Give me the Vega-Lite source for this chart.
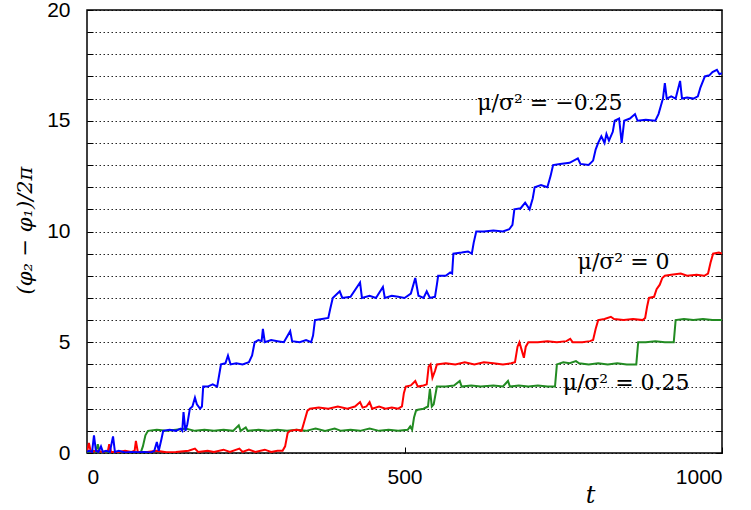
{
  "$schema": "https://vega.github.io/schema/vega-lite/v6.json",
  "width": 635,
  "height": 443,
  "autosize": {"type": "none"},
  "padding": {"left": 87, "top": 10, "right": 29, "bottom": 57},
  "background": "white",
  "config": {
    "view": {"stroke": "black", "strokeWidth": 1.5},
    "axis": {
      "labelFont": "Liberation Sans",
      "labelFontSize": 21,
      "labelColor": "black",
      "tickColor": "black",
      "domain": false,
      "titleFont": "DejaVu Serif",
      "titleFontWeight": "normal",
      "titleColor": "black"
    }
  },
  "datasets": {
    "blue": [
      {"t":0,"v":0.05},{"t":3,"v":0.1},{"t":8,"v":0.05},{"t":11,"v":0.8},{"t":14,"v":0.1},{"t":18,"v":0.05},{"t":22,"v":0.3},{"t":25,"v":0.05},{"t":30,"v":0.1},{"t":36,"v":0.05},{"t":41,"v":0.75},{"t":44,"v":0.05},{"t":50,"v":0.1},{"t":60,"v":0.02},{"t":70,"v":0.05},{"t":80,"v":0.03},{"t":90,"v":0.05},{"t":100,"v":0.02},{"t":106,"v":0.1},{"t":110,"v":0.5},{"t":113,"v":0.1},{"t":117,"v":0.6},{"t":120,"v":1.0},{"t":130,"v":1.05},{"t":140,"v":1.0},{"t":147,"v":1.1},{"t":150,"v":1.0},{"t":152,"v":1.85},{"t":155,"v":1.0},{"t":158,"v":1.3},{"t":162,"v":2.0},{"t":166,"v":2.1},{"t":170,"v":2.5},{"t":173,"v":2.2},{"t":178,"v":2.0},{"t":181,"v":2.1},{"t":183,"v":3.0},{"t":190,"v":3.0},{"t":198,"v":3.1},{"t":205,"v":3.0},{"t":208,"v":3.5},{"t":211,"v":4.0},{"t":218,"v":4.05},{"t":222,"v":4.4},{"t":226,"v":4.0},{"t":235,"v":4.05},{"t":245,"v":4.0},{"t":255,"v":4.1},{"t":260,"v":4.4},{"t":264,"v":5.0},{"t":270,"v":5.1},{"t":275,"v":5.05},{"t":277,"v":5.6},{"t":280,"v":5.0},{"t":290,"v":5.1},{"t":300,"v":5.05},{"t":310,"v":5.0},{"t":320,"v":5.5},{"t":323,"v":5.05},{"t":335,"v":5.0},{"t":345,"v":5.1},{"t":353,"v":5.0},{"t":356,"v":5.3},{"t":359,"v":6.0},{"t":370,"v":6.05},{"t":380,"v":6.1},{"t":383,"v":6.5},{"t":387,"v":7.0},{"t":398,"v":7.3},{"t":402,"v":7.0},{"t":415,"v":7.05},{"t":430,"v":7.7},{"t":433,"v":7.0},{"t":445,"v":7.1},{"t":455,"v":7.0},{"t":466,"v":7.5},{"t":469,"v":7.0},{"t":480,"v":7.1},{"t":490,"v":7.05},{"t":500,"v":7.0},{"t":510,"v":7.2},{"t":517,"v":7.9},{"t":522,"v":7.1},{"t":530,"v":7.0},{"t":535,"v":7.3},{"t":540,"v":7.0},{"t":548,"v":7.05},{"t":551,"v":7.6},{"t":553,"v":8.0},{"t":565,"v":8.0},{"t":572,"v":8.15},{"t":575,"v":8.1},{"t":577,"v":9.0},{"t":590,"v":9.05},{"t":600,"v":9.1},{"t":606,"v":9.0},{"t":609,"v":9.5},{"t":613,"v":10.0},{"t":625,"v":10.0},{"t":640,"v":10.05},{"t":655,"v":10.0},{"t":665,"v":10.1},{"t":670,"v":10.3},{"t":673,"v":11.0},{"t":683,"v":11.05},{"t":690,"v":11.3},{"t":697,"v":11.0},{"t":702,"v":11.5},{"t":705,"v":12.0},{"t":715,"v":12.1},{"t":725,"v":12.0},{"t":730,"v":12.5},{"t":734,"v":13.0},{"t":745,"v":13.05},{"t":760,"v":13.1},{"t":773,"v":13.3},{"t":777,"v":13.05},{"t":790,"v":13.0},{"t":797,"v":13.2},{"t":801,"v":13.7},{"t":805,"v":14.0},{"t":810,"v":14.3},{"t":815,"v":14.0},{"t":818,"v":14.4},{"t":822,"v":14.1},{"t":828,"v":14.5},{"t":831,"v":15.0},{"t":838,"v":15.1},{"t":842,"v":14.0},{"t":846,"v":15.0},{"t":855,"v":15.1},{"t":863,"v":15.3},{"t":867,"v":15.0},{"t":880,"v":15.05},{"t":895,"v":15.0},{"t":900,"v":15.3},{"t":904,"v":15.7},{"t":907,"v":16.0},{"t":910,"v":16.7},{"t":913,"v":16.0},{"t":920,"v":16.1},{"t":927,"v":16.0},{"t":934,"v":16.8},{"t":937,"v":16.0},{"t":945,"v":16.05},{"t":955,"v":16.0},{"t":962,"v":16.1},{"t":966,"v":16.5},{"t":973,"v":17.0},{"t":980,"v":17.05},{"t":985,"v":17.2},{"t":992,"v":17.3},{"t":996,"v":17.1},{"t":1000,"v":17.15}
    ],
    "red": [
      {"t":0,"v":0.05},{"t":3,"v":0.45},{"t":6,"v":0.05},{"t":15,"v":0.1},{"t":25,"v":0.05},{"t":33,"v":0.1},{"t":35,"v":0.4},{"t":38,"v":0.05},{"t":50,"v":0.05},{"t":60,"v":0.1},{"t":70,"v":0.05},{"t":75,"v":0.1},{"t":77,"v":0.55},{"t":80,"v":0.05},{"t":95,"v":0.05},{"t":110,"v":0.1},{"t":125,"v":0.03},{"t":140,"v":0.05},{"t":160,"v":0.1},{"t":170,"v":0.2},{"t":175,"v":0.05},{"t":190,"v":0.1},{"t":200,"v":0.05},{"t":215,"v":0.15},{"t":225,"v":0.05},{"t":240,"v":0.2},{"t":245,"v":0.05},{"t":255,"v":0.15},{"t":265,"v":0.05},{"t":280,"v":0.15},{"t":290,"v":0.05},{"t":300,"v":0.1},{"t":308,"v":0.1},{"t":312,"v":0.3},{"t":316,"v":0.9},{"t":320,"v":1.0},{"t":330,"v":1.05},{"t":338,"v":1.0},{"t":342,"v":1.4},{"t":347,"v":1.9},{"t":351,"v":2.0},{"t":365,"v":2.05},{"t":380,"v":2.0},{"t":395,"v":2.1},{"t":410,"v":2.0},{"t":422,"v":2.1},{"t":430,"v":2.3},{"t":434,"v":2.05},{"t":440,"v":2.1},{"t":445,"v":2.3},{"t":449,"v":2.0},{"t":460,"v":2.1},{"t":470,"v":2.0},{"t":480,"v":2.05},{"t":490,"v":2.0},{"t":496,"v":2.1},{"t":499,"v":2.7},{"t":502,"v":3.0},{"t":510,"v":3.05},{"t":517,"v":3.25},{"t":521,"v":3.0},{"t":530,"v":3.05},{"t":535,"v":3.1},{"t":538,"v":3.9},{"t":541,"v":4.0},{"t":544,"v":3.4},{"t":548,"v":3.7},{"t":551,"v":4.0},{"t":565,"v":4.05},{"t":580,"v":4.0},{"t":595,"v":4.1},{"t":610,"v":4.0},{"t":625,"v":4.1},{"t":640,"v":4.05},{"t":655,"v":4.0},{"t":668,"v":4.05},{"t":674,"v":4.1},{"t":678,"v":4.8},{"t":681,"v":5.0},{"t":685,"v":4.6},{"t":688,"v":4.3},{"t":691,"v":4.8},{"t":695,"v":5.0},{"t":710,"v":5.0},{"t":725,"v":5.05},{"t":740,"v":5.0},{"t":755,"v":5.05},{"t":761,"v":5.15},{"t":765,"v":5.0},{"t":780,"v":5.0},{"t":792,"v":5.05},{"t":797,"v":5.1},{"t":801,"v":5.6},{"t":805,"v":6.0},{"t":815,"v":6.05},{"t":825,"v":6.15},{"t":830,"v":6.05},{"t":845,"v":6.0},{"t":860,"v":6.05},{"t":875,"v":6.0},{"t":879,"v":6.1},{"t":882,"v":6.6},{"t":885,"v":7.0},{"t":893,"v":7.05},{"t":897,"v":7.4},{"t":902,"v":7.6},{"t":906,"v":7.9},{"t":910,"v":8.0},{"t":920,"v":8.05},{"t":935,"v":8.1},{"t":945,"v":8.0},{"t":960,"v":8.05},{"t":972,"v":8.0},{"t":978,"v":8.1},{"t":982,"v":8.6},{"t":986,"v":9.0},{"t":995,"v":9.05},{"t":1000,"v":9.0}
    ],
    "green": [
      {"t":0,"v":0.02},{"t":5,"v":0.05},{"t":10,"v":0.1},{"t":14,"v":0.05},{"t":17,"v":0.4},{"t":20,"v":0.05},{"t":30,"v":0.05},{"t":45,"v":0.02},{"t":60,"v":0.05},{"t":75,"v":0.02},{"t":85,"v":0.05},{"t":88,"v":0.3},{"t":92,"v":0.8},{"t":96,"v":1.0},{"t":110,"v":1.05},{"t":125,"v":1.0},{"t":140,"v":1.05},{"t":155,"v":1.1},{"t":170,"v":1.0},{"t":185,"v":1.05},{"t":200,"v":1.0},{"t":215,"v":1.05},{"t":230,"v":1.0},{"t":239,"v":1.25},{"t":242,"v":1.0},{"t":250,"v":1.15},{"t":253,"v":1.0},{"t":270,"v":1.05},{"t":285,"v":1.0},{"t":300,"v":1.05},{"t":315,"v":1.0},{"t":330,"v":1.05},{"t":345,"v":1.0},{"t":360,"v":1.1},{"t":375,"v":1.0},{"t":390,"v":1.1},{"t":400,"v":1.0},{"t":415,"v":1.05},{"t":430,"v":1.0},{"t":445,"v":1.1},{"t":460,"v":1.0},{"t":475,"v":1.05},{"t":490,"v":1.0},{"t":505,"v":1.05},{"t":509,"v":1.2},{"t":512,"v":1.05},{"t":515,"v":1.6},{"t":518,"v":1.9},{"t":521,"v":1.95},{"t":530,"v":2.0},{"t":537,"v":2.1},{"t":540,"v":2.9},{"t":543,"v":2.1},{"t":546,"v":2.2},{"t":551,"v":3.0},{"t":565,"v":3.0},{"t":578,"v":3.05},{"t":587,"v":3.25},{"t":590,"v":3.0},{"t":605,"v":3.05},{"t":620,"v":3.0},{"t":640,"v":3.05},{"t":655,"v":3.0},{"t":663,"v":3.25},{"t":666,"v":3.0},{"t":680,"v":3.05},{"t":695,"v":3.0},{"t":710,"v":3.05},{"t":725,"v":3.0},{"t":737,"v":3.0},{"t":740,"v":4.0},{"t":750,"v":4.1},{"t":760,"v":4.05},{"t":770,"v":4.15},{"t":775,"v":4.05},{"t":790,"v":4.0},{"t":805,"v":4.05},{"t":820,"v":4.0},{"t":835,"v":4.05},{"t":850,"v":4.0},{"t":865,"v":4.0},{"t":868,"v":5.0},{"t":880,"v":5.0},{"t":895,"v":5.05},{"t":910,"v":5.0},{"t":924,"v":5.0},{"t":927,"v":6.0},{"t":940,"v":6.05},{"t":955,"v":6.0},{"t":970,"v":6.05},{"t":985,"v":6.0},{"t":1000,"v":6.0}
    ],
    "labels": [
      {"t":729,"v":15.8,"label":"μ/σ² = −0.25"},
      {"t":845,"v":8.62,"label":"μ/σ² = 0"},
      {"t":849,"v":3.15,"label":"μ/σ² = 0.25"}
    ]
  },
  "layer": [
    {
      "data": {"name": "green"},
      "mark": {"type": "line", "color": "#228B22", "strokeWidth": 2, "clip": true},
      "encoding": {
        "x": {"field": "t", "type": "quantitative", "scale": {"domain": [0, 1000], "nice": false},
          "axis": {"values": [0, 500, 1000], "format": "d", "tickSize": -6, "labelPadding": 19, "grid": false, "title": "t",
            "titleFontStyle": "italic", "titleFontSize": 24, "titleX": 503, "titleY": 42, "titleBaseline": "middle", "titleAlign": "center"}},
        "y": {"field": "v", "type": "quantitative", "scale": {"domain": [0, 20], "nice": false},
          "axis": {"values": [0,1,2,3,4,5,6,7,8,9,10,11,12,13,14,15,16,17,18,19,20], "tickSize": -6, "labelPadding": 23,
            "labelExpr": "datum.value % 5 == 0 ? datum.label : ''",
            "grid": true, "gridColor": "black", "gridDash": [1.5, 2.5], "gridWidth": 1, "gridOpacity": 0.85,
            "title": "(φ₂ − φ₁)/2π", "titleFontSize": 21, "titleFontStyle": "italic", "titleX": -62, "titleY": 220, "titleAlign": "center", "titleBaseline": "middle"}}
      }
    },
    {
      "data": {"name": "red"},
      "mark": {"type": "line", "color": "#FF0000", "strokeWidth": 2, "clip": true},
      "encoding": {
        "x": {"field": "t", "type": "quantitative"},
        "y": {"field": "v", "type": "quantitative",
          "axis": {"orient": "right", "values": [0,1,2,3,4,5,6,7,8,9,10,11,12,13,14,15,16,17,18,19,20], "tickSize": -6, "labels": false, "grid": false, "title": null}}
      }
    },
    {
      "data": {"name": "blue"},
      "mark": {"type": "line", "color": "#0000FF", "strokeWidth": 2, "clip": true},
      "encoding": {
        "x": {"field": "t", "type": "quantitative"},
        "y": {"field": "v", "type": "quantitative", "axis": null}
      }
    },
    {
      "data": {"name": "labels"},
      "mark": {"type": "text", "font": "DejaVu Serif", "fontSize": 22, "color": "black", "align": "center", "baseline": "middle"},
      "encoding": {
        "x": {"field": "t", "type": "quantitative"},
        "y": {"field": "v", "type": "quantitative", "axis": null},
        "text": {"field": "label"}
      }
    }
  ],
  "resolve": {"scale": {"y": "shared"}, "axis": {"y": "independent"}}
}
